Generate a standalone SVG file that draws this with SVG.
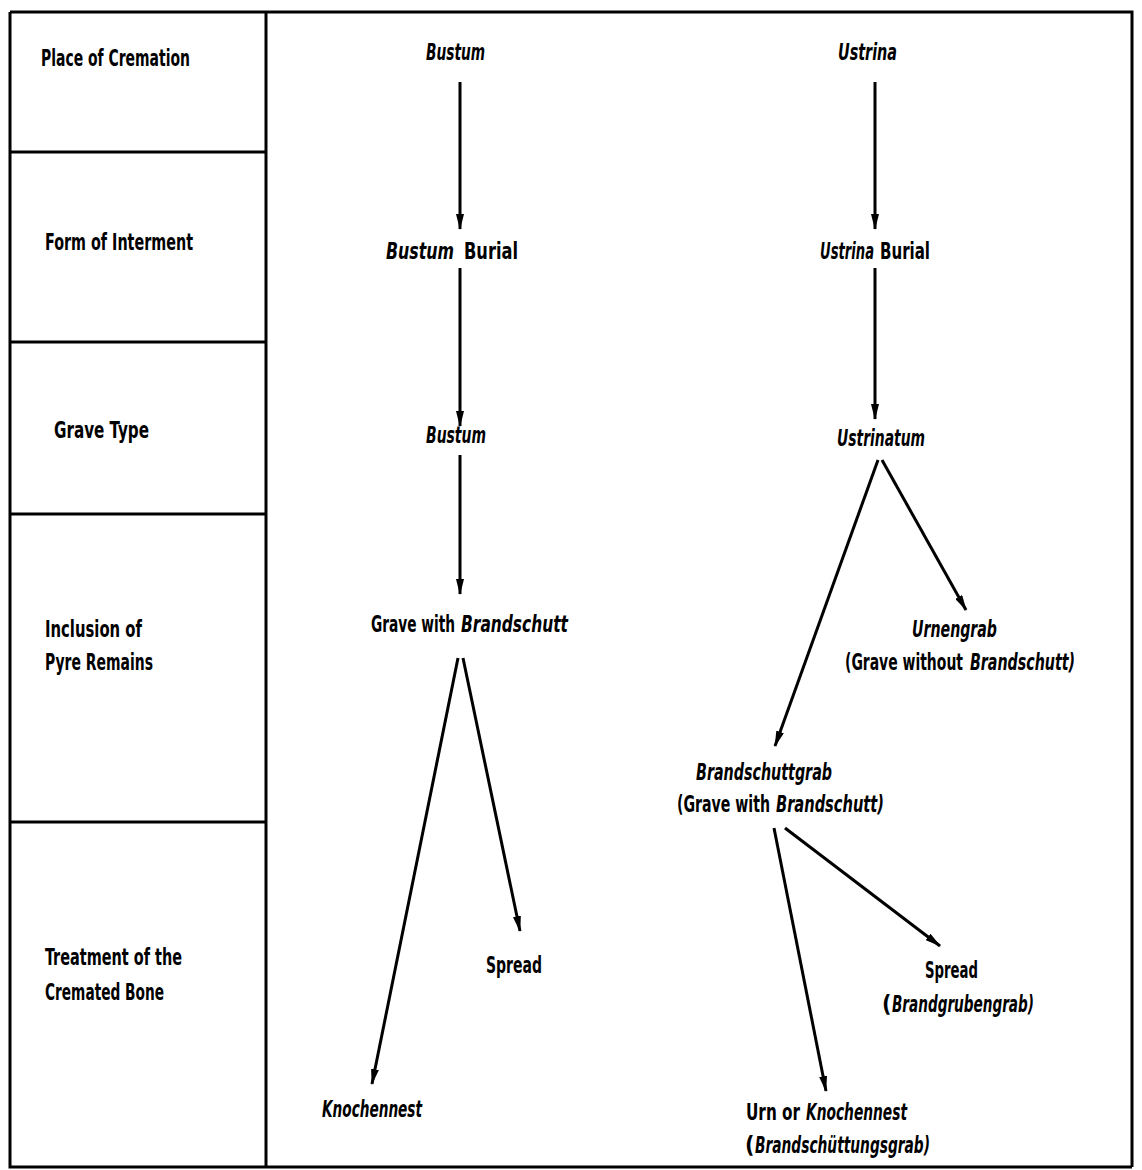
<svg xmlns="http://www.w3.org/2000/svg" width="1142" height="1170" viewBox="0 0 1142 1170">
<style>
.t{font-family:"DejaVu Sans Condensed","DejaVu Sans",sans-serif;font-weight:bold;font-size:23px;fill:#000}
.i{font-style:italic}
.grid{stroke:#000;stroke-width:3;fill:none}
.c{stroke:#000;stroke-width:3;fill:none}
</style>
<defs>
<marker id="ah" markerWidth="16" markerHeight="8" refX="15" refY="4" orient="auto" markerUnits="userSpaceOnUse">
<path d="M0,0 L16,4 L0,8 Z" fill="#000"/>
</marker>
</defs>
<rect width="1142" height="1170" fill="#fff"/>
<g id="table">
<path class="grid" d="M10,12 H1132 V1167 M10,12 V1167 H1132 M266,12 V1167 M10,152 H266 M10,342 H266 M10,514 H266 M10,822 H266"/>
</g>
<g id="row-labels">
<text class="t" x="41" y="66" textLength="149" lengthAdjust="spacingAndGlyphs">Place of Cremation</text>
<text class="t" x="45" y="250" textLength="148" lengthAdjust="spacingAndGlyphs">Form of Interment</text>
<text class="t" x="54" y="438" textLength="95" lengthAdjust="spacingAndGlyphs">Grave Type</text>
<text class="t" x="45" y="637" textLength="97" lengthAdjust="spacingAndGlyphs">Inclusion of</text>
<text class="t" x="45" y="670" textLength="108" lengthAdjust="spacingAndGlyphs">Pyre Remains</text>
<text class="t" x="45" y="965" textLength="137" lengthAdjust="spacingAndGlyphs">Treatment of the</text>
<text class="t" x="45" y="1000" textLength="119" lengthAdjust="spacingAndGlyphs">Cremated Bone</text>
</g>
<g id="n-bustum"><text class="t i" x="426" y="60" textLength="59" lengthAdjust="spacingAndGlyphs">Bustum</text></g>
<g id="n-bustum-burial">
<text class="t i" x="386" y="259" textLength="68" lengthAdjust="spacingAndGlyphs">Bustum</text>
<text class="t" x="464" y="259" textLength="54" lengthAdjust="spacingAndGlyphs">Burial</text>
</g>
<g id="n-bustum-grave"><text class="t i" x="426" y="443" textLength="60" lengthAdjust="spacingAndGlyphs">Bustum</text></g>
<g id="n-grave-brandschutt">
<text class="t" x="371" y="632" textLength="84" lengthAdjust="spacingAndGlyphs">Grave with</text>
<text class="t i" x="461" y="632" textLength="107" lengthAdjust="spacingAndGlyphs">Brandschutt</text>
</g>
<g id="n-spread-left"><text class="t" x="486" y="973" textLength="56" lengthAdjust="spacingAndGlyphs">Spread</text></g>
<g id="n-knochennest"><text class="t i" x="322" y="1117" textLength="100" lengthAdjust="spacingAndGlyphs">Knochennest</text></g>
<g id="n-ustrina"><text class="t i" x="838" y="60" textLength="59" lengthAdjust="spacingAndGlyphs">Ustrina</text></g>
<g id="n-ustrina-burial">
<text class="t i" x="820" y="259" textLength="54" lengthAdjust="spacingAndGlyphs">Ustrina</text>
<text class="t" x="880" y="259" textLength="50" lengthAdjust="spacingAndGlyphs">Burial</text>
</g>
<g id="n-ustrinatum"><text class="t i" x="837" y="446" textLength="88" lengthAdjust="spacingAndGlyphs">Ustrinatum</text></g>
<g id="n-urnengrab">
<text class="t i" x="912" y="637" textLength="85" lengthAdjust="spacingAndGlyphs">Urnengrab</text>
<text class="t" x="845" y="670" textLength="118" lengthAdjust="spacingAndGlyphs">(Grave without</text>
<text class="t i" x="970" y="670" textLength="105" lengthAdjust="spacingAndGlyphs">Brandschutt)</text>
</g>
<g id="n-brandschuttgrab">
<text class="t i" x="696" y="780" textLength="136" lengthAdjust="spacingAndGlyphs">Brandschuttgrab</text>
<text class="t" x="677" y="812" textLength="93" lengthAdjust="spacingAndGlyphs">(Grave with</text>
<text class="t i" x="776" y="812" textLength="108" lengthAdjust="spacingAndGlyphs">Brandschutt)</text>
</g>
<g id="n-spread-right">
<text class="t" x="925" y="978" textLength="53" lengthAdjust="spacingAndGlyphs">Spread</text>
<text class="t" x="882" y="1012">(</text>
<text class="t i" x="892" y="1012" textLength="142" lengthAdjust="spacingAndGlyphs">Brandgrubengrab)</text>
</g>
<g id="n-urn-knochennest">
<text class="t" x="746" y="1120" textLength="54" lengthAdjust="spacingAndGlyphs">Urn or</text>
<text class="t i" x="806" y="1120" textLength="101" lengthAdjust="spacingAndGlyphs">Knochennest</text>
<text class="t" x="745" y="1153">(</text>
<text class="t i" x="755" y="1153" textLength="175" lengthAdjust="spacingAndGlyphs">Brandschüttungsgrab)</text>
</g>
<g id="connectors">
<line class="c" x1="460" y1="82" x2="460" y2="229" marker-end="url(#ah)"/>
<line class="c" x1="460" y1="268" x2="460" y2="426" marker-end="url(#ah)"/>
<line class="c" x1="460" y1="455" x2="460" y2="594" marker-end="url(#ah)"/>
<line class="c" x1="458" y1="658" x2="372" y2="1084" marker-end="url(#ah)"/>
<line class="c" x1="463" y1="658" x2="520" y2="931" marker-end="url(#ah)"/>
<line class="c" x1="875" y1="82" x2="875" y2="229" marker-end="url(#ah)"/>
<line class="c" x1="875" y1="268" x2="875" y2="419" marker-end="url(#ah)"/>
<line class="c" x1="878" y1="460" x2="775" y2="746" marker-end="url(#ah)"/>
<line class="c" x1="882" y1="460" x2="966" y2="610" marker-end="url(#ah)"/>
<line class="c" x1="774" y1="828" x2="826" y2="1091" marker-end="url(#ah)"/>
<line class="c" x1="785" y1="828" x2="940" y2="946" marker-end="url(#ah)"/>
</g>
</svg>
